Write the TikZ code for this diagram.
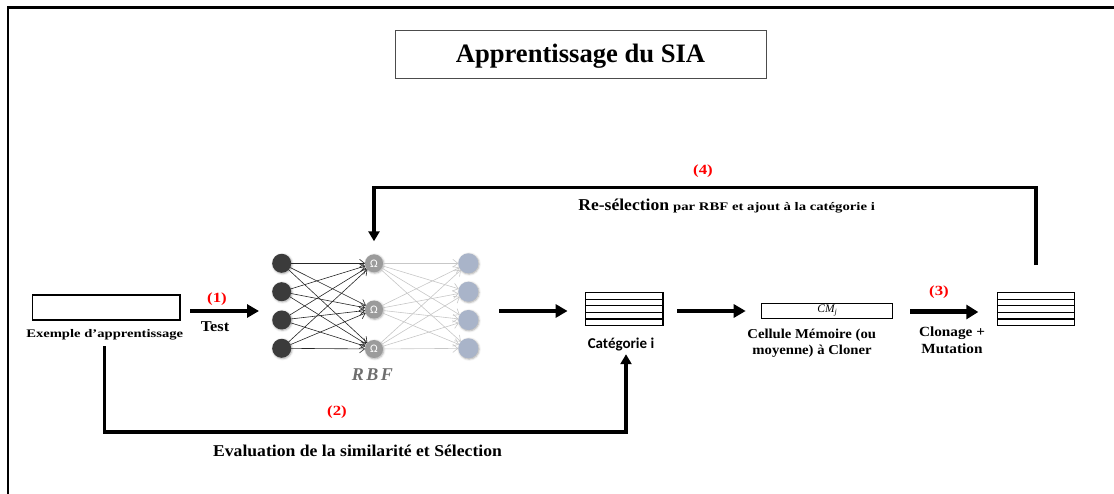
\documentclass[tikz,border=0pt]{standalone}
\usepackage{fontspec}
\usepackage{graphicx}
\setmainfont{Liberation Serif}
\newfontfamily\calibfont{Carlito}
\usetikzlibrary{arrows.meta,calc,shadows.blur}

\definecolor{numred}{HTML}{FF0000}
\definecolor{inpcol}{HTML}{3B3B3B}
\definecolor{hidcol}{HTML}{9B9B9B}
\definecolor{outcol}{HTML}{A9B4C9}
\definecolor{rbfgray}{HTML}{6E6E6E}

% bold serif label: size, horizontal stretch, text
\newcommand{\lbl}[3]{\scalebox{#2}[1]{\fontsize{#1}{#1}\selectfont\bfseries #3}}

\tikzset{
  every node/.style={inner sep=0pt, outer sep=0pt},
  bigarrow/.style={line width=3.3pt, -{Triangle[length=12pt,width=13pt]}},
  thickarrow/.style={line width=5pt, -{Triangle[length=12pt,width=14pt]}},
  loopline/.style={line width=3.3pt, line join=miter, -{Triangle[length=10pt,width=11pt]}},
  plainbox/.style={draw, line width=1.3pt},
  stackbox/.style={draw, line width=1.3pt, minimum width=77.4pt, minimum height=33pt},
  rowline/.style={line width=1.2pt},
  numlabel/.style={text=numred},
  neuron/.style={circle, minimum size=19pt,
    blur shadow={shadow xshift=0.8pt, shadow yshift=-0.8pt, shadow blur radius=2pt, shadow opacity=35}},
  inp/.style={neuron, fill=inpcol},
  hid/.style={neuron, fill=hidcol, minimum size=18pt, text=white},
  outn/.style={neuron, fill=outcol, minimum size=20pt},
  wdark/.style={draw=black!85, line width=0.6pt, -{Straight Barb[length=5pt,width=8pt]}},
  wlight/.style={draw=black!22, line width=0.6pt, -{Straight Barb[length=5pt,width=8pt]}},
}

\newcommand{\omegalbl}{\calibfont\fontsize{11.5}{11.5}\selectfont Ω}

\newcommand{\stackrows}[1]{%
  \foreach \k in {1,2,3} {\draw[rowline] ($(#1.north west)!\k/5!(#1.south west)$) -- ($(#1.north east)!\k/5!(#1.south east)$);}
  \draw[line width=2pt] ($(#1.north west)!0.8!(#1.south west)$) -- ($(#1.north east)!0.8!(#1.south east)$);}

\begin{document}
\begin{tikzpicture}[x=1pt,y=-1pt]
\useasboundingbox (0,0) rectangle (1114,494);

% outer frame (top and left edges)
\draw[line width=2.7pt, line join=miter] (8,500) -- (8,7.7) -- (1120,7.7);

% title
\node[draw=black!70, line width=0.9pt, minimum width=371pt, minimum height=48pt] (tbox) at (580.5,54) {};
\node[anchor=base] (title) at (580.5,63) {\bfseries\fontsize{26.6}{30}\selectfont Apprentissage du SIA};

% training example
\node[plainbox, minimum width=147.7pt, minimum height=25pt] (exbox) at (106.2,307.5) {};
\node[anchor=base] (exlabel) at (104.7,337.7) {\lbl{11.6}{1.26}{Exemple d’apprentissage}};

% step (1)
\coordinate (netin) at (259,311);
\draw[bigarrow] ([xshift=10pt,yshift=-3.5pt]exbox.east) -- (netin);
\node[numlabel] (n1) at (217,299) {\lbl{14}{1.2}{(1)}};
\node[anchor=base] (test) at (215,332) {\lbl{15}{1.09}{Test}};

% RBF network
\node[inp] (i1) at (281.7,263.3) {};
\node[inp] (i2) at (281.7,291.7) {};
\node[inp] (i3) at (281.7,320) {};
\node[inp] (i4) at (281.7,348.3) {};
\node[hid] (h1) at (374,263.3) {\omegalbl};
\node[hid] (h2) at (374,309.5) {\omegalbl};
\node[hid] (h3) at (374,349) {\omegalbl};
\node[outn] (o1) at (468.3,263.3) {};
\node[outn] (o2) at (468.3,291.7) {};
\node[outn] (o3) at (468.3,320) {};
\node[outn] (o4) at (468.3,348.3) {};
\foreach \a in {1,2,3,4} \foreach \b in {1,2,3} \draw[wdark] (i\a) -- (h\b);
\foreach \b in {1,2,3} \foreach \c in {1,2,3,4} \draw[wlight] (h\b) -- (o\c);
\node[anchor=base, text=rbfgray] (rbf) at (372.5,380) {\bfseries\itshape\fontsize{18}{18}\selectfont R\kern2.5pt B\kern2.5pt F};

% category i
\coordinate (netout) at (499,311);
\node[stackbox] (cat) at (624.3,309.2) {};
\stackrows{cat}
\draw[bigarrow] (netout) -- ([xshift=-18pt,yshift=-1.8pt]cat.west);
\node[anchor=base] (catlabel) at (621,348.7) {\calibfont\bfseries\fontsize{15}{16}\selectfont Catégorie i};

% memory cell
\node[plainbox, minimum width=131pt, minimum height=14.6pt] (cm) at (827.2,311) {\itshape\fontsize{11.5}{11.5}\selectfont CM\raisebox{-2pt}{\fontsize{8}{8}\selectfont j}};
\draw[bigarrow] ([xshift=14pt,yshift=-1.8pt]cat.east) -- ([xshift=-16pt]cm.west);
\node[anchor=base] (cellA) at (811.7,338.3) {\lbl{13.6}{1.08}{Cellule Mémoire (ou}};
\node[anchor=base] (cellB) at (812,354.5) {\lbl{13.6}{1.08}{moyenne) à Cloner}};

% cloned set, step (3)
\node[stackbox] (stk) at (1036,309.2) {};
\stackrows{stk}
\draw[thickarrow] ([xshift=17.3pt,yshift=-1pt]cm.east) -- ([xshift=-19pt,yshift=-2.8pt]stk.west);
\node[numlabel] (n3) at (939,291.7) {\lbl{14}{1.2}{(3)}};
\node[anchor=base] (cloneA) at (952,336.7) {\lbl{14}{1.09}{Clonage +}};
\node[anchor=base] (cloneB) at (952,353.3) {\lbl{14}{1.09}{Mutation}};

% step (2): similarity evaluation loop
\draw[loopline] ([yshift=-6pt]exlabel.south) -- ++(0,85.8) -| ([xshift=5pt,yshift=-3pt]catlabel.south);
\node[numlabel] (n2) at (337,412) {\lbl{14}{1.2}{(2)}};
\node[anchor=base] (evalsel) at (357.5,456) {\lbl{16.5}{1.07}{Evaluation de la similarité et Sélection}};

% step (4): re-selection loop
\draw[loopline] ([yshift=27.5pt]stk.north) -- ++(0,-78) -| ([yshift=13pt]h1.north);
\node[numlabel] (n4) at (703,171.5) {\lbl{14}{1.2}{(4)}};
\node[anchor=base west] (resel) at (578.3,211) {\lbl{16.6}{1.06}{Re-sélection}\hspace{4pt}\lbl{11.6}{1.27}{par RBF et ajout à la catégorie i}};
\end{tikzpicture}
\end{document}
